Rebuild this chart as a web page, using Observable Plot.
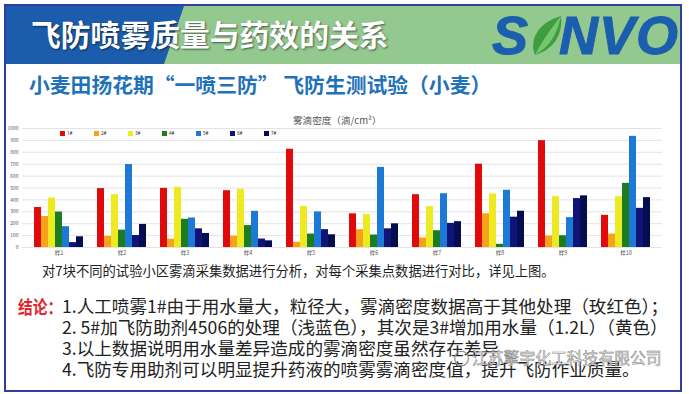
<!DOCTYPE html>
<html><head><meta charset="utf-8">
<script src="https://cdn.jsdelivr.net/npm/d3@7"></script>
<script src="https://cdn.jsdelivr.net/npm/@observablehq/plot@0.6"></script>
<style>
body{margin:0;width:689px;height:394px;position:relative;overflow:hidden;background:#fff;font-family:"Noto Sans CJK SC","Noto Sans",sans-serif;}
.abs{position:absolute;white-space:nowrap;}
.lg-swatches{min-height:0 !important;}
.lg-swatch{width:34px;margin-right:0 !important;font-size:4.5px;color:#333;}
.lg-swatch svg{margin-right:2px !important;}
</style></head>
<body>
<!-- frame -->
<div class="abs" style="left:4px;top:4px;width:674px;height:384px;border:2px solid #2e3f9f;"></div>
<!-- banner -->
<div class="abs" style="left:6px;top:6px;width:674px;height:58px;background:#93c88f;"></div>
<div class="abs" style="left:6px;top:6px;width:178px;height:58px;background:#1b5dac;clip-path:polygon(0 0,100% 0,158px 100%,0 100%);"></div>
<div class="abs" style="left:31px;top:14px;font-size:29.8px;font-weight:700;color:#fff;line-height:38px;text-shadow:1px 1px 2px rgba(0,0,0,0.55);">飞防喷雾质量与药效的关系</div>
<div class="abs" style="left:492px;top:4px;font-family:'Liberation Sans',Arial,sans-serif;font-size:54px;font-weight:700;font-style:italic;color:#1c5eae;line-height:62px;letter-spacing:1px;-webkit-text-stroke:1px #1c5eae;">S<span style="display:inline-block;width:30px;"></span>NVO</div>
<svg class="abs" style="left:527px;top:13px;" width="40" height="46" viewBox="0 0 40 46">
  <path d="M8 42 C2 28 10 10 34 3 C36 20 28 36 8 42 Z" fill="#3c9e3e"/>
  <path d="M8 42 C14 30 22 18 34 3 C30 22 22 34 8 42 Z" fill="#79c46f"/>
</svg>
<!-- subtitle -->
<div class="abs" style="left:29px;top:71px;font-size:20.8px;font-weight:700;color:#1f72b8;line-height:26px;">小麦田扬花期“一喷三防” 飞防生测试验（小麦）</div>
<!-- chart title -->
<div class="abs" style="left:293px;top:114px;font-size:9.6px;color:#555;line-height:12px;">雾滴密度（滴/cm²）</div>
<div id="grid" class="abs" style="left:0;top:112px;"></div>
<div id="chart" class="abs" style="left:0;top:112px;"></div>
<div id="legend" class="abs" style="left:60px;top:130px;"></div>
<!-- texts -->
<div class="abs" style="left:42px;top:262px;font-size:13.3px;color:#222;line-height:18px;">对7块不同的试验小区雾滴采集数据进行分析，对每个采集点数据进行对比，详见上图。</div>
<div class="abs" style="left:18px;top:295px;font-size:18px;font-weight:700;color:#e3262b;line-height:22px;transform:scaleX(0.82);transform-origin:0 0;">结论：</div>
<div class="abs" style="left:62px;top:295px;font-size:17.6px;color:#222;line-height:21px;">
1.人工喷雾1#由于用水量大，粒径大，雾滴密度数据高于其他处理（玫红色）；<br>
2. 5#加飞防助剂4506的处理（浅蓝色），其次是3#增加用水量（1.2L）（黄色）<br>
3.以上数据说明用水量差异造成的雾滴密度虽然存在差异<br>
4.飞防专用助剂可以明显提升药液的喷雾雾滴密度值，提升飞防作业质量。
</div>
<!-- watermark -->
<div class="abs" style="left:454px;top:348px;font-size:15px;color:rgba(255,255,255,0.85);-webkit-text-stroke:0.6px #8a8a8a;line-height:20px;">◯</div>
<div class="abs" style="left:472px;top:346px;font-size:15.8px;color:rgba(255,255,255,0.85);-webkit-text-stroke:0.6px #8a8a8a;line-height:24px;">江苏擎宇化工科技有限公司</div>
<script>
const groups = ["样1","样2","样3","样4","样5","样6","样7","样8","样9","样10"];
const series = ["1#","2#","3#","4#","5#","6#","7#"];
const colors = ["#e00a0a","#f7a21b","#eeea22","#1b7d1f","#1c7ad6","#0f1479","#040d4f"];
const yTicks = [0,100,200,300,400,500,600,700,800,900,1000];
const s1 = [336, 495, 497, 477, 826, 283, 444, 700, 898, 270];
const s2 = [260, 93, 70, 95, 44, 150, 80, 283, 96, 113];
const s3 = [416, 444, 505, 488, 345, 276, 344, 450, 427, 427];
const s4 = [298, 146, 237, 184, 113, 105, 141, 27, 99, 539];
const s5 = [175, 697, 248, 304, 299, 673, 452, 481, 251, 934];
const s6 = [41, 101, 157, 71, 150, 157, 203, 255, 411, 329];
const s7 = [90, 194, 118, 56, 107, 199, 217, 305, 434, 419];
const seriesValues = [s1,s2,s3,s4,s5,s6,s7];
const data = groups.flatMap((g,i)=>series.map((s,j)=>({group:g, series:s, value:seriesValues[j][i]})));

const common = {
  width: 689, height: 150,
  marginTop: 16, marginBottom: 15, marginLeft: 22, marginRight: 27,
  style: {fontFamily:"'Noto Sans CJK SC',sans-serif", fontSize:"5px", color:"#555", background:"transparent"}
};
const grid = Plot.plot({
  ...common,
  y: {domain: [0,1000]},
  marks: [
    Plot.ruleY(yTicks, {stroke: "#dcdcdc", strokeWidth: 0.8}),
    Plot.axisY(yTicks, {tickSize: 0, tickPadding: 4, label: null, fontSize: 5, tickFormat: d => String(d)})
  ]
});
document.getElementById("grid").appendChild(grid);
const chart = Plot.plot({
  ...common,
  y: {domain: [0,1000], axis: null},
  fx: {domain: groups, paddingInner: 0.156, paddingOuter: 0.11, label: null, axis: null},
  x: {domain: series, padding: 0, axis: null},
  color: {domain: series, range: colors},
  marks: [
    Plot.barY(data, {fx: "group", x: "series", y: "value", fill: "series"}),
    Plot.axisFx({anchor: "bottom", tickSize: 0, tickPadding: 4, label: null, fontSize: 5.5})
  ]
});
document.getElementById("chart").appendChild(chart);
const legend = Plot.legend({color: {domain: series, range: colors}, swatchSize: 5, className: "lg"});
document.getElementById("legend").appendChild(legend);
</script>
</body></html>
